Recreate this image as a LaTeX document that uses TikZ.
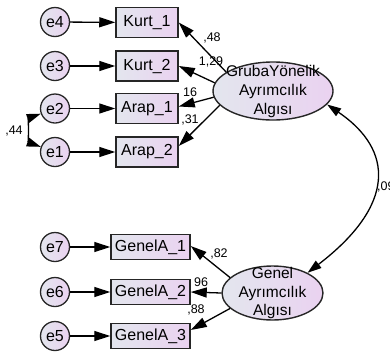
\documentclass[tikz,border=0pt]{standalone}
\usepackage{fontspec}
\setmainfont{Liberation Sans}
\usetikzlibrary{shapes.geometric,arrows.meta}
\definecolor{lcol}{HTML}{E3E6EE}
\definecolor{rcol}{HTML}{EAD2F0}
\definecolor{edgec}{HTML}{262626}
\begin{document}
\begin{tikzpicture}[x=1pt,y=-1pt,
  obs/.style={draw=edgec, line width=1.5pt, left color=lcol, right color=rcol,
    minimum width=62pt, minimum height=30pt, inner sep=0pt,
    font=\fontsize{16}{18}\selectfont},
  obsg/.style={obs, minimum width=79pt, minimum height=25pt},
  err/.style={circle, draw=edgec, line width=1.3pt, left color=lcol, right color=rcol,
    minimum size=29pt, inner sep=0pt, font=\fontsize{16}{18}\selectfont},
  lat/.style={ellipse, draw=edgec, line width=1.4pt, left color=lcol, right color=rcol,
    inner sep=0pt},
  ltext/.style={align=center, font=\fontsize{15.5}{19}\selectfont, inner sep=0pt},
  arr/.style={-{Triangle[length=16pt,width=10pt]}, line width=1.3pt},
  darr/.style={{Triangle[length=14pt,width=9pt]}-{Triangle[length=14pt,width=9pt]}, line width=1.3pt},
  num/.style={font=\fontsize{12.5}{14}\selectfont, inner sep=0pt}
]
\useasboundingbox (0,0) rectangle (390,354);

% error terms
\node[err] (e4) at (55,22) {e4};
\node[err] (e3) at (55,66) {e3};
\node[err] (e2) at (55,108.5) {e2};
\node[err] (e1) at (55,152) {e1};
\node[err] (e7) at (55,247) {e7};
\node[err] (e6) at (55,292) {e6};
\node[err] (e5) at (55,336) {e5};

% observed
\node[obs] (k1) at (147,22.5) {Kurt\_1};
\node[obs] (k2) at (147,66) {Kurt\_2};
\node[obs] (a1) at (147,108.5) {Arap\_1};
\node[obs] (a2) at (147,152) {Arap\_2};
\node[obsg] (g1) at (150.5,247) {GenelA\_1};
\node[obsg] (g2) at (150.5,292) {GenelA\_2};
\node[obsg] (g3) at (150.5,336) {GenelA\_3};

% latent
\node[lat, minimum width=120pt, minimum height=58pt] (f1) at (273,91) {};
\node[ltext] (f1t) at (f1) {GrubaYönelik\\Ayrımcılık\\Algısı};
\node[lat, minimum width=101pt, minimum height=54pt] (f2) at (272.5,293) {};
\node[ltext, font=\fontsize{15.5}{18.5}\selectfont] (f2t) at (f2) {Genel\\Ayrımcılık\\Algısı};

% error arrows
\foreach \e/\o in {e4/k1,e3/k2,e2/a1,e1/a2,e7/g1,e6/g2,e5/g3}
  \draw[arr] (\e) -- (\o);

% loadings
\draw[arr] (f1.158) -- (k1.east);
\draw[arr] (f1.172) -- (k2.east);
\draw[arr] (f1.186) -- ([yshift=2pt]a1.east);
\draw[arr] (f1.195) -- ([yshift=6pt]a2.east);
\draw[arr] (f2.160) -- ([yshift=1pt]g1.east);
\draw[arr] (f2.west) -- (g2.east);
\draw[arr] (f2.200) -- ([yshift=6pt]g3.east);

% covariances
\draw[darr] (e2) to[bend right=70] (e1);
\draw[darr] (f1.-14) .. controls (394,150) and (396,205) .. (f2.30);

% labels
\node[num] (l48) at (212,38) {,48};
\node[num] (l129) at (211,62) {1,29};
\node[num] (l16) at (190,92) {16};
\node[num] (l31) at (190,120) {,31};
\node[num] (l82) at (219,254) {,82};
\node[num] (l96) at (201,282) {96};
\node[num] (l88) at (196,310) {,88};
\node[num] (l44) at (14,131) {,44};
\node[num, anchor=west] (l09) at (377,187) {,09};
\end{tikzpicture}
\end{document}
